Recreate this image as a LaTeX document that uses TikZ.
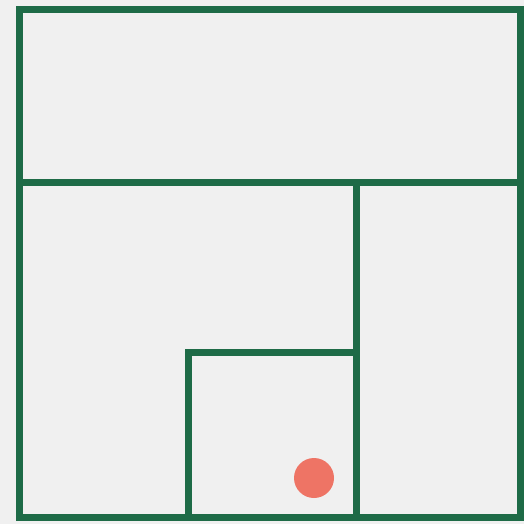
\documentclass[tikz,border=0pt]{standalone}
\usepackage{tikz}
\usetikzlibrary{positioning}
\definecolor{wallgreen}{HTML}{1E6B47}
\definecolor{dotred}{HTML}{EE7465}
\definecolor{paper}{HTML}{F0F0F0}

\begin{document}
\begin{tikzpicture}[x=1pt,y=-1pt,
wall/.style={draw=wallgreen,line width=7pt,line cap=rect},
marker/.style={circle,fill=dotred,minimum size=40pt,inner sep=0pt}]
\fill[paper] (0,0) rectangle (524,524);
\useasboundingbox (0,0) rectangle (524,524);
\draw[wall] (19,10) rectangle (520,517);
\draw[wall] (19,182) -- (520,182);
\draw[wall] (356,182) -- (356,517);
\draw[wall] (188,517) -- (188,352) -- (356,352);
\node[marker] (dot) at (314,478) {};
\end{tikzpicture}
\end{document}
